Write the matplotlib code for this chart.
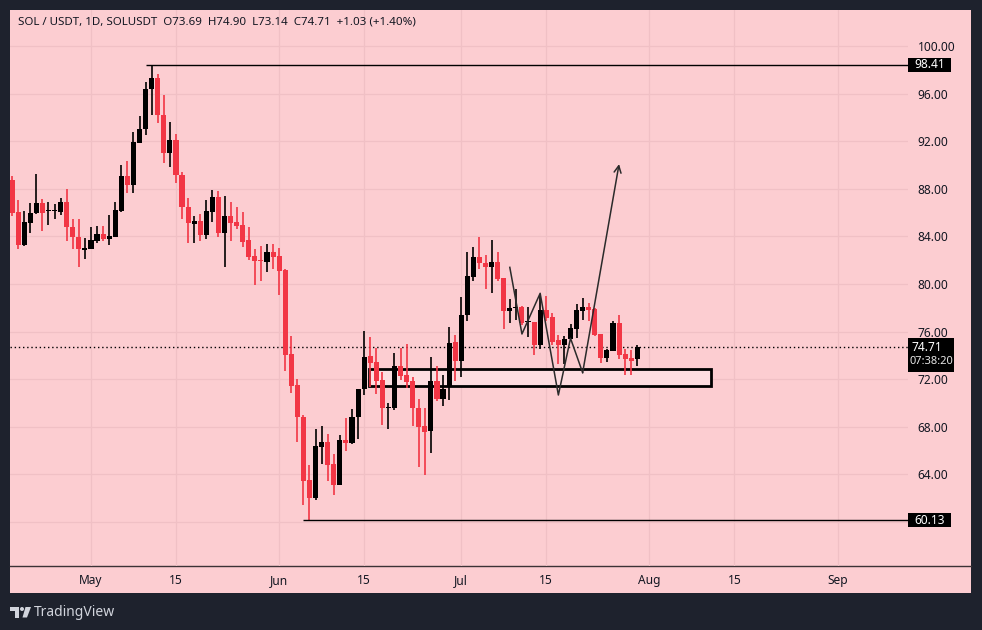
import pandas as pd
import numpy as np
import matplotlib
matplotlib.use('Agg')
import matplotlib.pyplot as plt
import matplotlib.dates as mdates
import matplotlib.transforms as mtransforms
from matplotlib.patches import Rectangle, Polygon, Circle

plt.rcParams['font.family'] = ['Noto Sans', 'DejaVu Sans']

# daily candles, 2024-04-18 .. 2024-07-30
start_date = '2024-04-18'

opens = [88.74, 86.05, 83.30, 85.15, 85.94, 86.78, 86.10, 86.10, 86.05, 86.89,
         84.76, 83.92, 82.90, 82.97, 83.64, 84.20, 83.81, 83.98, 86.16, 89.08,
         88.29, 91.87, 93.00, 96.36, 97.31, 94.18, 91.03, 92.10, 89.13, 86.50,
         85.04, 85.27, 84.14, 86.05, 87.29, 84.31, 85.71, 85.21, 84.99, 83.70,
         82.35, 82.00, 81.85, 82.69, 82.35, 81.18, 74.12, 71.54, 68.85, 63.53,
         62.02, 66.33, 66.72, 64.87, 63.08, 66.89, 66.66, 68.80, 71.15, 73.95,
         73.45, 71.93, 69.60, 69.58, 73.11, 72.38, 71.87, 69.58, 68.07, 67.62,
         71.82, 70.36, 71.32, 75.13, 73.55, 77.37, 80.61, 82.24, 81.79, 81.45,
         81.85, 80.50, 77.71, 78.00, 78.04, 76.80, 76.81, 74.90, 77.82, 77.20,
         75.29, 74.90, 75.35, 76.24, 77.76, 78.04, 77.88, 75.80, 73.78, 74.39,
         76.70, 74.12, 73.78, 73.69]

highs = [89.08, 87.06, 86.11, 86.78, 89.24, 87.12, 86.89, 86.72, 87.23, 87.96,
         85.44, 85.44, 83.87, 84.76, 84.87, 84.87, 85.82, 86.89, 89.97, 90.36,
         92.77, 94.12, 96.97, 98.41, 97.65, 95.91, 93.61, 92.61, 89.41, 87.23,
         85.71, 85.88, 87.06, 87.90, 87.79, 87.39, 86.89, 86.50, 86.05, 84.82,
         82.97, 83.19, 83.36, 83.36, 83.03, 81.29, 75.63, 72.04, 69.02, 64.82,
         67.84, 68.07, 67.39, 65.71, 67.28, 68.74, 69.52, 71.20, 76.03, 75.52,
         74.62, 72.61, 69.97, 74.23, 74.62, 74.96, 72.21, 70.31, 69.58, 73.84,
         73.11, 72.33, 76.41, 75.74, 78.93, 82.69, 83.14, 83.97, 82.41, 83.70,
         82.69, 80.50, 78.71, 79.55, 78.15, 78.04, 76.81, 78.99, 78.99, 77.54,
         75.69, 75.63, 76.64, 78.32, 78.82, 78.38, 78.00, 75.80, 74.56, 76.92,
         77.42, 74.56, 74.45, 74.90]

lows = [85.70, 82.92, 83.20, 84.26, 85.90, 84.43, 84.93, 85.49, 85.82, 83.59,
        82.97, 81.40, 82.13, 82.97, 83.42, 83.59, 83.25, 83.98, 86.05, 87.62,
        87.62, 91.82, 92.55, 94.23, 93.50, 90.19, 89.81, 88.51, 85.49, 83.47,
        83.47, 83.64, 83.81, 85.21, 83.98, 81.45, 83.64, 84.65, 83.14, 82.02,
        79.94, 80.28, 81.01, 81.24, 79.10, 72.71, 70.87, 66.72, 61.45, 60.13,
        61.85, 64.87, 63.47, 62.29, 63.08, 65.94, 66.55, 66.95, 70.65, 71.37,
        70.76, 68.18, 67.84, 69.41, 71.93, 71.26, 68.07, 64.65, 63.97, 65.82,
        70.19, 69.75, 70.25, 71.87, 72.21, 76.87, 80.28, 81.29, 79.61, 79.22,
        80.28, 76.24, 76.70, 76.97, 76.58, 75.57, 74.06, 74.51, 76.87, 74.85,
        73.28, 73.28, 75.35, 75.46, 76.97, 76.92, 75.63, 73.39, 73.45, 74.39,
        73.72, 72.33, 72.33, 73.14]

closes = [86.00, 83.30, 85.21, 85.94, 86.78, 86.00, 86.14, 86.14, 86.89, 84.76,
          83.92, 82.92, 82.95, 83.70, 84.20, 83.81, 84.03, 86.22, 89.08, 88.29,
          91.93, 93.00, 96.36, 97.31, 94.18, 91.03, 92.10, 89.13, 86.45, 85.15,
          85.27, 84.14, 86.11, 87.29, 84.31, 85.71, 85.15, 84.87, 83.53, 82.29,
          81.96, 81.96, 82.69, 82.29, 81.12, 74.06, 71.43, 68.80, 63.47, 62.02,
          66.39, 66.72, 64.82, 63.08, 66.89, 66.67, 68.80, 71.15, 73.84, 73.39,
          71.87, 69.58, 69.65, 73.11, 72.27, 71.76, 69.58, 68.01, 67.56, 71.82,
          70.36, 71.20, 75.02, 73.55, 77.37, 80.67, 82.24, 81.74, 81.45, 81.85,
          80.45, 77.71, 77.98, 78.05, 76.70, 76.85, 74.90, 77.82, 77.14, 75.13,
          74.90, 75.40, 76.30, 77.82, 78.04, 77.82, 75.74, 73.78, 74.45, 76.70,
          74.06, 73.72, 73.55, 74.71]

# drawings
high_level, high_date = 98.41, '2024-05-10'
low_level, low_date = 60.13, '2024-06-05'
last_price = 74.71
countdown = '07:38:20'
zone_start, zone_end = '2024-06-15 20:00', '2024-08-11 02:00'
zone_low, zone_high = 71.43, 72.86
path_dates = ['2024-07-09', '2024-07-11', '2024-07-14', '2024-07-17',
              '2024-07-19', '2024-07-21', '2024-07-27']
path_prices = [81.40, 75.80, 79.22, 70.67, 75.44, 72.55, 90.08]

price_ticks = [60, 64, 68, 72, 76, 80, 84, 88, 92, 96, 100]
time_ticks = ['2024-05-01', '2024-05-15', '2024-06-01', '2024-06-15', '2024-07-01',
              '2024-07-15', '2024-08-01', '2024-08-15', '2024-09-01']
time_labels = ['May', '15', 'Jun', '15', 'Jul', '15', 'Aug', '15', 'Sep']

header = 'SOL / USDT, 1D, SOLUSDT  O73.69  H74.90  L73.14  C74.71  +1.03 (+1.40%)'

dark = '#1e222d'
pink = '#fccdd1'
up_col = '#000000'
down_col = '#f23645'
grid_col = '#f0c0c5'
txt_col = '#131722'

W, H = 982, 630
fig = plt.figure(figsize=(W / 100, H / 100), dpi=100)
fig.patch.set_facecolor(dark)

# background panel in pixel coordinates
bg = fig.add_axes([0, 0, 1, 1], zorder=-1)
bg.set_xlim(0, W)
bg.set_ylim(H, 0)
bg.axis('off')
bg.add_patch(Rectangle((10, 10), 961, 583, facecolor=pink, edgecolor='none'))
bg.plot([10, 971], [566, 566], color='#3c3236', linewidth=1.0)

# tradingview logo + name
bg.add_patch(Polygon([[10, 607], [19, 607], [19, 617.5], [15, 617.5], [15, 611], [10, 611]],
                     closed=True, facecolor='#d1d4dc', edgecolor='none'))
bg.add_patch(Circle((22, 609), 2.0, facecolor='#d1d4dc', edgecolor='none'))
bg.add_patch(Polygon([[25.5, 607], [31, 607], [27, 617.5], [22.5, 617.5]],
                     closed=True, facecolor='#d1d4dc', edgecolor='none'))
bg.text(34, 612, 'TradingView', color='#d1d4dc', fontsize=10, va='center', ha='left')

# main chart area
left, right, top, bottom = 10, 908, 10, 566
ax = fig.add_axes([left / W, 1 - bottom / H, (right - left) / W, (bottom - top) / H])
ax.set_facecolor('none')

dates = pd.date_range(start_date, periods=len(opens), freq='D')
x = mdates.date2num(dates)
o = np.array(opens)
c = np.array(closes)
h = np.array(highs)
l = np.array(lows)
up = c >= o
cols = np.where(up, up_col, down_col)

may1 = mdates.date2num(pd.Timestamp('2024-05-01'))
ax.set_xlim(may1 - 13.34, may1 + 134.6)
ax.set_ylim(56.30, 103.03)

ax.vlines(x, l, h, colors=cols, linewidth=1.2, zorder=3)
body = np.maximum(np.abs(c - o), 0.1)
ax.bar(x, body, bottom=np.minimum(o, c), width=0.84, color=cols, linewidth=0, zorder=4)

# grid
ax.set_yticks(price_ticks)
ax.set_xticks(mdates.date2num(pd.to_datetime(time_ticks)))
ax.grid(True, color=grid_col, linewidth=0.9)
ax.set_axisbelow(True)

ax.yaxis.tick_right()
ax.set_yticklabels(['' if v == 60 else '%.2f' % v for v in price_ticks])
ax.tick_params(axis='y', length=0, pad=7, labelsize=8.6, labelcolor=txt_col)
ax.set_xticklabels(time_labels)
ax.tick_params(axis='x', length=0, pad=6, labelsize=8.6, labelcolor=txt_col)
for lab in ax.get_xticklabels():
    if not lab.get_text().isdigit():
        lab.set_fontweight('bold')

for s in ax.spines.values():
    s.set_visible(False)

xmax = ax.get_xlim()[1]
# high / low levels
hx = mdates.date2num(pd.Timestamp(high_date))
lx = mdates.date2num(pd.Timestamp(low_date))
ax.hlines(high_level, hx, xmax, color='black', linewidth=1.0, zorder=5)
ax.hlines(low_level, lx, xmax, color='black', linewidth=1.0, zorder=5)

# last price line
ax.axhline(last_price, color='black', linewidth=1.0, linestyle=(0, (1, 2)), zorder=2)

# zone rectangle
zs = mdates.date2num(pd.Timestamp(zone_start))
ze = mdates.date2num(pd.Timestamp(zone_end))
ax.add_patch(Rectangle((zs, zone_low), ze - zs, zone_high - zone_low,
                       facecolor='#fddde0', edgecolor='black', linewidth=2.0, zorder=2))

# projected path
px = mdates.date2num(pd.to_datetime(path_dates))
ax.plot(px[:-1], path_prices[:-1], color='#2b2b2b', linewidth=1.1, zorder=6)
ax.annotate('', xy=(px[-1], path_prices[-1]), xytext=(px[-2], path_prices[-2]),
            arrowprops=dict(arrowstyle='->,head_length=0.5,head_width=0.25',
                            color='#2b2b2b', linewidth=1.1, shrinkA=0, shrinkB=0),
            zorder=6)

# price-scale labels (boxes sized in pixels)
trans = mtransforms.blended_transform_factory(ax.transAxes, ax.transData)
ppu = (bottom - top) / (103.03 - 56.30)  # pixels per price unit
fx = 1.0 / (right - left)
for lvl in [high_level, low_level]:
    ax.add_patch(Rectangle((1.0, lvl - 7 / ppu), 43 * fx, 14 / ppu, transform=trans,
                           facecolor='black', edgecolor='none', clip_on=False, zorder=9))
    ax.text(1 + 21.5 * fx, lvl, '%.2f' % lvl, transform=trans, ha='center', va='center',
            color='white', fontsize=8.6, fontweight='bold', clip_on=False, zorder=10)

ax.add_patch(Rectangle((1.0, last_price - 25 / ppu), 46 * fx, 34 / ppu, transform=trans,
                       facecolor='black', edgecolor='none', clip_on=False, zorder=9))
ax.text(1 + 4 * fx, last_price - 0.3 / ppu, '%.2f' % last_price, transform=trans, ha='left',
        va='center', color='white', fontsize=8.6, fontweight='bold', clip_on=False, zorder=10)
ax.text(1 + 23 * fx, last_price - 15 / ppu, countdown, transform=trans, ha='center',
        va='center', color='#e6e6e6', fontsize=8.0, clip_on=False, zorder=10)

# header on top of everything
fig.text(18 / W, 1 - 22 / H, header, color=txt_col, fontsize=8.3, va='center', ha='left')

fig.savefig('out.png', dpi=100, facecolor=fig.get_facecolor())
